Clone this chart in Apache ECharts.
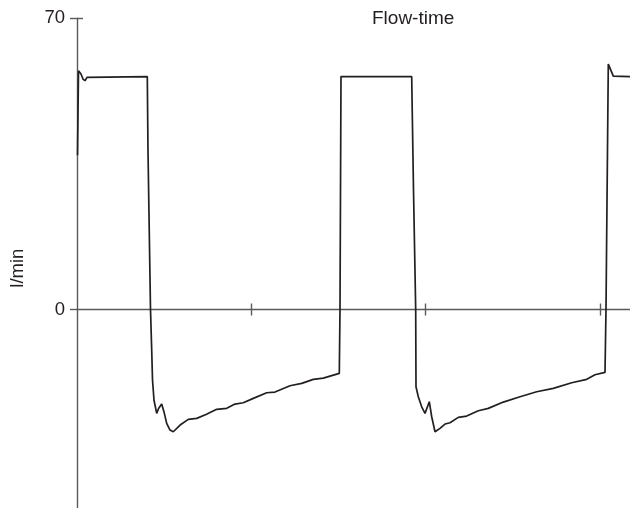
<!DOCTYPE html>
<html>
<head>
<meta charset="utf-8">
<script src="https://cdn.jsdelivr.net/npm/echarts@6/dist/echarts.min.js"></script>
<style>
html,body{margin:0;padding:0;background:#fff;}
#chart{width:630px;height:508px;}
</style>
</head>
<body>
<div id="chart"></div>
<script>
// Data (time in s, flow in l/min)
var chartTitle = 'Flow-time';
var yAxisName = 'l/min';
var yTickValues = [0, 70];
var xTickValues = [1, 2, 3];
var timeS = [
  0.0029, 0.0086, 0.023, 0.0344, 0.0459, 0.0574, 0.0688, 0.4033,
  0.4073, 0.4217, 0.4286, 0.4332, 0.4418, 0.4573, 0.468, 0.4859, 0.4991, 0.5146, 0.5336, 0.5525,
  0.5915, 0.6386, 0.6867, 0.74, 0.8015, 0.8589, 0.9065, 0.9541, 1.0115, 1.0884, 1.136, 1.222,
  1.2892, 1.3557, 1.4131, 1.5049, 1.5089, 1.5146, 1.9202,
  1.9306, 1.9432, 1.9449, 1.9581, 1.9776, 1.9966, 2.0063, 2.0212, 2.035, 2.054, 2.0637,
  2.0826, 2.1113, 2.14, 2.1876, 2.2358, 2.3023, 2.3597, 2.4458, 2.5416, 2.6374, 2.7326,
  2.8382, 2.9243, 2.9719, 3.0293, 3.035, 3.0482, 3.0769, 3.1727
];
var flowLmin = [
  37.1, 57.4, 56.6, 55.4, 55.0, 55.8, 56.0, 56.0,
  38.3, 0, -9.7, -16.9, -21.8, -24.95, -23.8, -22.7, -24.6, -27.36, -28.97, -29.37,
  -27.76, -26.4, -26.15, -25.24, -23.99, -23.75, -22.72, -22.4, -21.35, -20.0, -19.83, -18.32,
  -17.74, -16.78, -16.47, -15.34, 0, 56.0, 56.0,
  28.7, 0, -18.56, -20.96, -23.37, -24.95, -25.12, -22.16, -25.77, -29.38, -29.62,
  -28.56, -27.52, -27.21, -25.91, -25.6, -24.33, -23.75, -22.24, -20.96, -19.76, -18.94,
  -17.6, -16.78, -15.67, -15.1, 0, 59.0, 56.1, 55.96
];

var points = timeS.map(function (t, i) { return [t, flowLmin[i]]; });
var axisColor = '#5a5a5a';
var textColor = '#231f20';
var font = 'Liberation Sans, Arial, Helvetica, sans-serif';

var chart = echarts.init(document.getElementById('chart'), null, {renderer: 'canvas'});
chart.setOption({
  animation: false,
  backgroundColor: '#fff',
  title: {
    text: chartTitle,
    left: 372,
    top: 9,
    padding: 0,
    textStyle: {fontFamily: font, fontSize: 19, fontWeight: 'normal', color: textColor}
  },
  grid: {left: 77, right: 0, top: 18.3, bottom: 0, containLabel: false, outerBoundsMode: 'none'},
  xAxis: [{
    type: 'value', min: 0, max: 3.1727, interval: 1,
    axisLine: {show: true, onZero: true, lineStyle: {color: axisColor, width: 1.4}},
    axisTick: {show: true, inside: false, length: 6, customValues: xTickValues, lineStyle: {color: axisColor, width: 1.4}},
    axisLabel: {show: false},
    splitLine: {show: false}
  }, {
    type: 'value', min: 0, max: 3.1727, interval: 1, position: 'bottom',
    axisLine: {show: true, onZero: true, lineStyle: {color: axisColor, width: 1.4, opacity: 0}},
    axisTick: {show: true, inside: true, length: 6, customValues: xTickValues, lineStyle: {color: axisColor, width: 1.4}},
    axisLabel: {show: false},
    splitLine: {show: false}
  }],
  yAxis: [{
    type: 'value', min: -47.7, max: 70,
    name: yAxisName, nameLocation: 'middle', nameRotate: 90, nameGap: 50,
    nameTextStyle: {fontFamily: font, fontSize: 18.5, color: textColor, padding: [0, 0, 0, -10]},
    axisLine: {show: true, onZero: true, lineStyle: {color: axisColor, width: 1.4}},
    axisTick: {show: true, inside: false, length: 7, customValues: yTickValues, lineStyle: {color: axisColor, width: 1.4}},
    axisLabel: {show: true, customValues: yTickValues, margin: 12, fontFamily: font, fontSize: 18.5, color: textColor},
    splitLine: {show: false}
  }, {
    type: 'value', min: -47.7, max: 70, position: 'left',
    axisLine: {show: true, onZero: true, lineStyle: {color: axisColor, width: 1.4, opacity: 0}},
    axisTick: {show: true, inside: true, length: 6, customValues: [70], lineStyle: {color: axisColor, width: 1.4}},
    axisLabel: {show: false},
    splitLine: {show: false}
  }],
  series: [{
    type: 'line',
    xAxisIndex: 0,
    yAxisIndex: 0,
    data: points,
    showSymbol: false,
    symbol: 'none',
    smooth: false,
    lineStyle: {color: '#231f20', width: 1.7},
    clip: false
  }]
});
</script>
</body>
</html>
